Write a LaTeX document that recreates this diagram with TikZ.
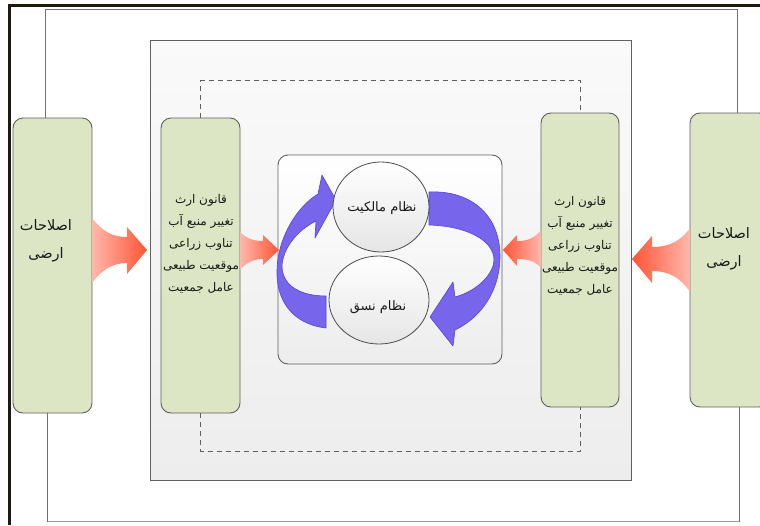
\documentclass[tikz,border=0pt]{standalone}
\usepackage{fontspec}
\TeXXeTstate=1
\newfontfamily\arabicfont[Script=Arabic]{DejaVu Sans}
\usetikzlibrary{shapes.geometric}

\definecolor{framedark}{HTML}{1E1A10}
\definecolor{edgegray}{HTML}{606060}
\definecolor{boxgreen}{HTML}{DCE6C4}
\definecolor{panelTop}{HTML}{FAFAFA}
\definecolor{panelBot}{HTML}{EDEDED}
\definecolor{redlight}{HTML}{FFB8AC}
\definecolor{reddark}{HTML}{FF5434}
\definecolor{bluefill}{HTML}{7766EC}
\definecolor{blueedge}{HTML}{5444D8}

\newcommand\rl[1]{\beginR #1\endR}

\begin{document}
\begin{tikzpicture}[x=1pt,y=-1pt,
  frameline/.style={draw=framedark,line width=2.6pt},
  loopline/.style={draw=edgegray!90,line width=1pt},
  dashline/.style={draw=edgegray,line width=0.9pt,dash pattern=on 5pt off 4pt},
  panelbox/.style={draw=edgegray,line width=0.9pt,top color=panelTop,bottom color=panelBot,
    rectangle,inner sep=0pt},
  greenbox/.style={draw=edgegray,line width=0.9pt,fill=boxgreen,rectangle,rounded corners=10pt,
    minimum width=79pt,inner sep=0pt},
  corebox/.style={draw=edgegray,line width=0.9pt,top color=white,bottom color=panelBot,
    rectangle,rounded corners=10pt,inner sep=0pt,minimum width=224pt,minimum height=209pt},
  disc/.style={ellipse,draw=black!70,line width=0.8pt,top color=white,bottom color=black!10,inner sep=0pt},
  txt/.style={font=\arabicfont\fontsize{12}{22}\selectfont,align=center,text=black!90,inner sep=0pt},
  bigtxt/.style={font=\arabicfont\fontsize{14.5}{28}\selectfont,align=center,text=black!90,inner sep=0pt},
  disctxt/.style={font=\arabicfont\fontsize{13}{15}\selectfont,align=center,text=black!90,inner sep=0pt},
  fatarrowR/.style={left color=redlight,right color=reddark,draw=none},
  fatarrowL/.style={left color=reddark,right color=redlight,draw=none},
  bluearrow/.style={fill=bluefill,draw=blueedge,line width=0.6pt,line join=round}
]
\clip (0,0) rectangle (760,525);
\fill[white] (0,0) rectangle (760,525);

% page frame
\draw[frameline] (9.5,525) -- (9.5,5.5) -- (760,5.5);

% grey panel behind the inner boxes
\node[panelbox,minimum width=481pt,minimum height=440pt] (panel) at (390.5,260) {};

% the four factor boxes
\node[greenbox,minimum height=295pt] (lo) at (52.5,265.5) {};
\node[greenbox,minimum height=295pt] (li) at (200.5,265.5) {};
\node[greenbox,minimum width=78pt,minimum height=294pt] (ri) at (580,260) {};
\node[greenbox,minimum height=294pt] (ro) at (729.5,260) {};

% outer loop joining the land-reform boxes
\coordinate (tl) at (45,9);
\coordinate (tr) at (737,9);
\coordinate (bl) at (47,521.5);
\coordinate (br) at (739,521.5);
\draw[loopline] (lo.north -| tl) -- (tl) -- (tr) -- (ro.north -| tr);
\draw[loopline,draw=black!40,line width=1.6pt] (bl) -- (br);
\draw[loopline] (lo.south -| bl) -- (bl);
\draw[loopline] (br) -- (ro.south -| br);

% dashed loop joining the factor boxes
\draw[dashline] (li.north) -- ++(0,-37) -| (ri.north);
\draw[dashline] (li.south) -- ++(0,38) -| (ri.south);

% central frame
\node[corebox] (core) at (390,259.5) {};

% texts of the boxes
\node[bigtxt] (lotxt) at (46,241) {\rl{اصلاحات}\\\rl{ارضی}};
\node[bigtxt] (rotxt) at (724,249) {\rl{اصلاحات}\\\rl{ارضی}};
\node[txt] (litxt) at (201,244)
  {\rl{قانون ارث}\\\rl{تغییر منبع آب}\\\rl{تناوب زراعی}\\\rl{موقعیت طبیعی}\\\rl{عامل جمعیت}};
\node[txt] (ritxt) at (580,246)
  {\rl{قانون ارث}\\\rl{تغییر منبع آب}\\\rl{تناوب زراعی}\\\rl{موقعیت طبیعی}\\\rl{عامل جمعیت}};

% broad arrows between the boxes
\shade[fatarrowR] (92,218) .. controls (102,231) and (112,237) .. (127,237) -- (127,227)
  -- (147,250) -- (127,274) -- (127,263) .. controls (112,263) and (102,270) .. (92,283) -- cycle;
\shade[fatarrowR] (240,232) .. controls (247,239) and (254,241) .. (263,241) -- (263,235)
  -- (279,250) -- (263,265) -- (263,259) .. controls (254,259) and (247,262) .. (240,270) -- cycle;
\shade[fatarrowL] (541,230) .. controls (535,238) and (528,241) .. (517,241) -- (517,235)
  -- (503,250) -- (517,266) -- (517,259) .. controls (528,259) and (535,261) .. (541,268) -- cycle;
\shade[fatarrowL] (690,228) .. controls (680,242) and (668,247) .. (652,247) -- (652,236)
  -- (632,259) -- (652,283) -- (652,271) .. controls (668,271) and (680,277) .. (690,292) -- cycle;

% circular arrows of the cycle
\path[bluearrow] (326,328) .. controls (292,324) and (276,300) .. (277,270)
  .. controls (278,236) and (298,206) .. (318,194) -- (322,175) -- (336,200) -- (315,238)
  -- (316,221) .. controls (296,231) and (282,250) .. (282,267)
  .. controls (283,288) and (304,296) .. (326,296) -- cycle;
\path[bluearrow] (429,192) .. controls (472,190) and (500,216) .. (500,256)
  .. controls (500,292) and (480,318) .. (455,330) -- (453,346) -- (430,317) -- (453,282)
  -- (455,297) .. controls (480,290) and (494,272) .. (494,260)
  .. controls (494,240) and (466,226) .. (429,225) -- cycle;

% the two systems
\node[disc,minimum width=96pt,minimum height=90pt] (own) at (381,207) {};
\node[disc,minimum width=100pt,minimum height=88pt] (nasaq) at (379,300) {};
\node[disctxt] (owntxt) at (382,208) {\rl{نظام مالکیت}};
\node[disctxt] (nasaqtxt) at (378,307) {\rl{نظام نسق}};
\end{tikzpicture}
\end{document}
